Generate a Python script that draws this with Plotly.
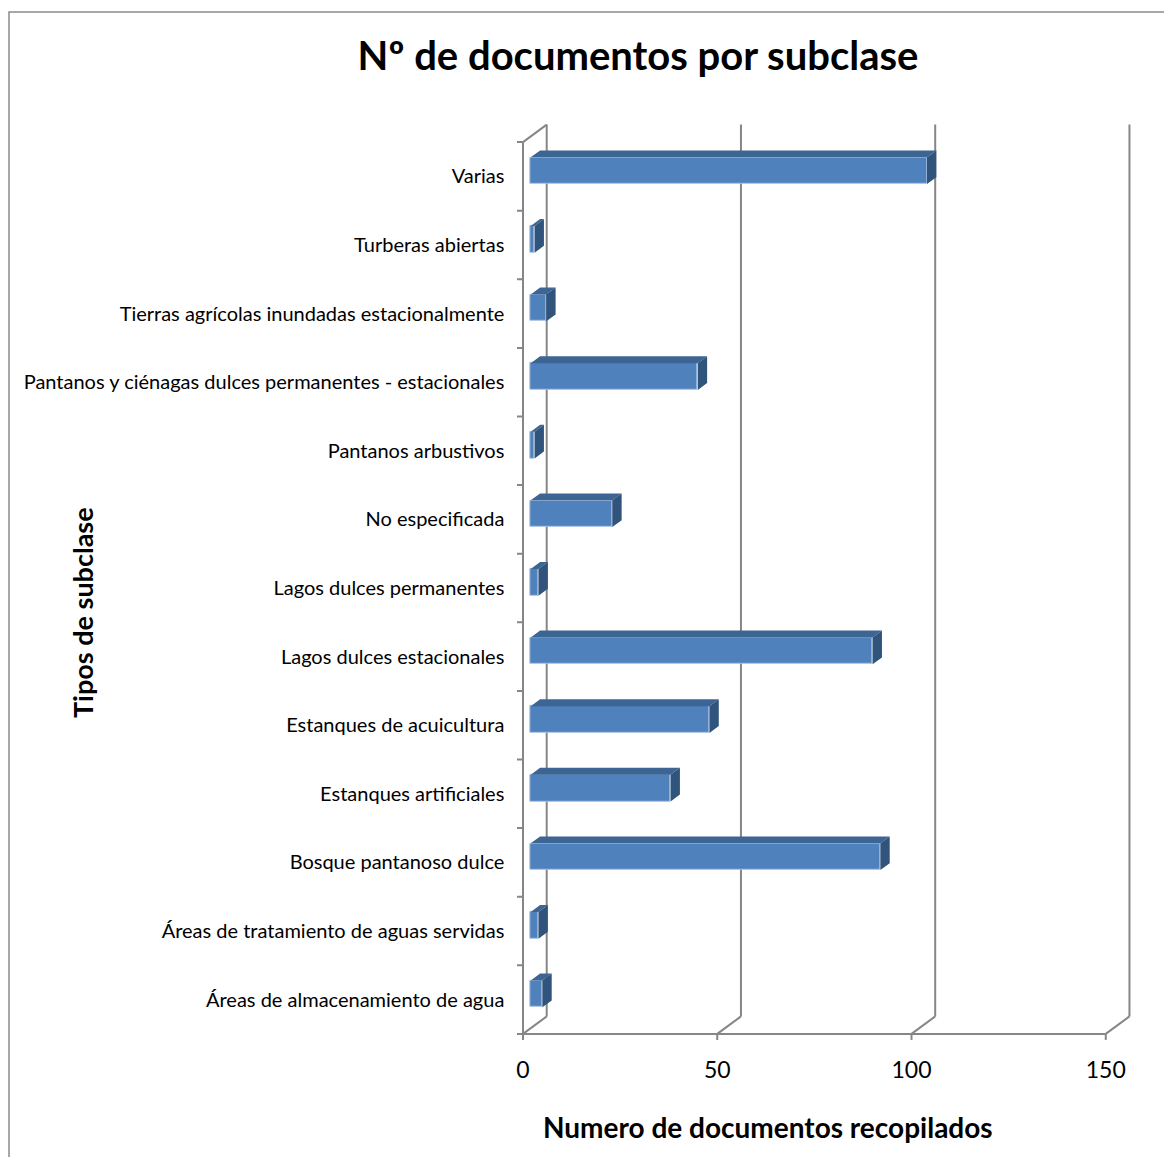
import plotly.graph_objects as go

# ---------------- data ----------------
categories = [
    "Áreas de almacenamiento de agua",
    "Áreas de tratamiento de aguas servidas",
    "Bosque pantanoso dulce",
    "Estanques artificiales",
    "Estanques de acuicultura",
    "Lagos dulces estacionales",
    "Lagos dulces permanentes",
    "No especificada",
    "Pantanos arbustivos",
    "Pantanos y ciénagas dulces permanentes - estacionales",
    "Tierras agrícolas inundadas estacionalmente",
    "Turberas abiertas",
    "Varias",
]
values = [3, 2, 90, 36, 46, 88, 2, 21, 1, 43, 4, 1, 102]
x_ticks = [0, 50, 100, 150]

title_text = "Nº de documentos por subclase"
x_title = "Numero de documentos recopilados"
y_title = "Tipos de subclase"

# ---------------- geometry (pixel based pseudo-3D) ----------------
OFF = 8                      # page body margin
W, H = 1172 - 2 * OFF, 1165 - 2 * OFF

def px(x):                   # reference x px -> figure x px
    return x - OFF

def py(y):
    return y - OFF

SX = 3.885          # px per value unit
SY = 68.6           # px per category
X0PX = px(523.0)    # px of value 0 on front wall
C0PX = py(999.6)    # px of category 0 centre on front wall
DX = 23.7 / SX      # depth offset in value units
DY = 17.5 / SY      # depth offset in category units
F1, F2 = 0.325, 0.72  # bar front / back depth fractions
HB = 0.195          # half bar height (category units)

right_px = px(1150)
xr = [-3.0, (right_px - X0PX) / SX]
yr = [-0.75, 13.0]
xdom = [(X0PX + xr[0] * SX) / W, right_px / W]
ybot_px = C0PX - yr[0] * SY
ytop_px = C0PX - yr[1] * SY
ydom = [1 - ybot_px / H, 1 - ytop_px / H]

n = len(categories)
ylo, yhi = -0.5, n - 0.5
xmax = x_ticks[-1]

fig = go.Figure()

# front faces of bars
a = F1 * DX
fig.add_trace(go.Bar(
    orientation="h",
    x=values,
    y=[i + F1 * DY for i in range(n)],
    base=[a] * n,
    width=2 * HB,
    marker=dict(color="#4F81BD", line=dict(color="#A9C1E0", width=1)),
    hoverinfo="skip",
    showlegend=False,
))

# top and side faces
g = F2 - F1
tx, ty, sx_, sy_ = [], [], [], []
for i, v in enumerate(values):
    yt = i + HB + F1 * DY
    yb = i - HB + F1 * DY
    tx += [a, a + v, a + v + g * DX, a + g * DX, a, None]
    ty += [yt, yt, yt + g * DY, yt + g * DY, yt, None]
    sx_ += [a + v, a + v, a + v + g * DX, a + v + g * DX, a + v, None]
    sy_ += [yb, yt, yt + g * DY, yb + g * DY, yb, None]

fig.add_trace(go.Scatter(x=tx, y=ty, mode="lines", fill="toself",
                         fillcolor="#3D6594", line=dict(width=0),
                         hoverinfo="skip", showlegend=False))
fig.add_trace(go.Scatter(x=sx_, y=sy_, mode="lines", fill="toself",
                         fillcolor="#31547C", line=dict(width=0),
                         hoverinfo="skip", showlegend=False))

# ---------------- walls / gridlines as shapes below ----------------
GC = "#868686"
shapes = []
def seg(x0, y0, x1, y1, w=2):
    shapes.append(dict(type="line", xref="x", yref="y", x0=x0, y0=y0, x1=x1, y1=y1,
                       line=dict(color=GC, width=w), layer="below"))

for t in x_ticks:
    seg(t + DX, ylo + DY, t + DX, yhi + DY)        # back gridline
    seg(t, ylo, t + DX, ylo + DY)                  # floor diagonal
    seg(t, ylo, t, ylo - 6 / SY)                   # tick mark
seg(0, ylo, xmax, ylo)                             # front floor line
seg(0, ylo, 0, yhi)                                # front left wall line
seg(0, yhi, DX, yhi + DY)                          # top diagonal of left wall
for k in range(n + 1):
    seg(-6 / SX, k - 0.5, 0, k - 0.5)              # category ticks

# chart border
shapes.append(dict(type="rect", xref="paper", yref="paper",
                   x0=1.0 / W, y0=-0.03, x1=1.03, y1=1 - py(12) / H,
                   line=dict(color="#8A8A8A", width=1.5), layer="below"))

FONT = "Lato, 'Open Sans', sans-serif"

fig.update_layout(
    width=W, height=H,
    margin=dict(l=0, r=0, t=0, b=0),
    template="none",
    paper_bgcolor="white",
    plot_bgcolor="rgba(0,0,0,0)",
    shapes=shapes,
    bargap=0,
    title=dict(text=f"<b>{title_text}</b>", x=px(638) / W, xanchor="center",
               y=1 - py(56) / H, yanchor="middle",
               font=dict(family=FONT, size=40, color="black")),
    xaxis=dict(domain=xdom, range=xr, showgrid=False, zeroline=False,
               showline=False, tickvals=x_ticks, ticks="",
               ticklabelstandoff=3,
               tickfont=dict(family=FONT, size=23, color="black"),
               fixedrange=True),
    yaxis=dict(domain=ydom, range=yr, showgrid=False, zeroline=False,
               showline=False, tickvals=list(range(n)), ticktext=categories,
               ticks="", ticklabelstandoff=6,
               tickfont=dict(family=FONT, size=20, color="black"),
               fixedrange=True),
    annotations=[
        dict(text=f"<b>{x_title}</b>", xref="paper", yref="paper",
             x=px(768) / W, y=1 - py(1127) / H, xanchor="center", yanchor="middle",
             showarrow=False, font=dict(family=FONT, size=28, color="black")),
        dict(text=f"<b>{y_title}</b>", xref="paper", yref="paper",
             x=px(82) / W, y=1 - py(613) / H, xanchor="center", yanchor="middle",
             textangle=-90, showarrow=False,
             font=dict(family=FONT, size=27, color="black")),
    ],
)

fig.write_html("out.html")
